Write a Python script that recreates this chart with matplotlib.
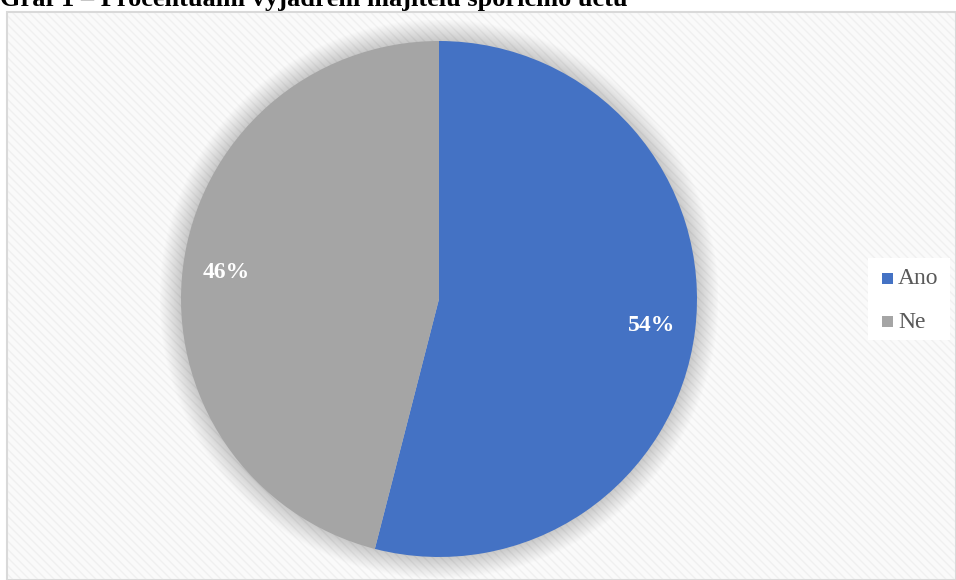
import matplotlib.pyplot as plt
from matplotlib.patches import Rectangle, Circle

# data
labels = ["Ano", "Ne"]
values = [54, 46]
colors = ["#4472C4", "#A5A5A5"]
title = "Graf 1 – Procentuální vyjádření majitelů spořicího účtu"

plt.rcParams['font.family'] = ['Liberation Serif', 'DejaVu Serif']

W, H = 956, 580
fig = plt.figure(figsize=(W / 100, H / 100), dpi=100)
fig.patch.set_facecolor("white")

# background frame in pixel coords
bg = fig.add_axes([0, 0, 1, 1])
bg.set_xlim(0, W)
bg.set_ylim(H, 0)
bg.axis("off")
bg.add_patch(Rectangle((7, 12), W - 7, H - 12, facecolor="#fafafa",
                       edgecolor="#d9d9d9", linewidth=1.5))
bg.add_patch(Rectangle((8, 13), W - 9, H - 14, facecolor="none",
                       edgecolor="#f0f0f0", hatch="\\\\\\\\", linewidth=0))
bg.text(0, 6, title, fontsize=19, fontweight="bold", ha="left",
        va="baseline", color="black")

# pie placement
cx, cy, r = 439, 299, 258
pad = 1.08
ax = fig.add_axes([(cx - r * pad) / W, (H - cy - r * pad) / H,
                   2 * r * pad / W, 2 * r * pad / H])
ax.set_facecolor("none")

# soft shadow
for k in range(24, 0, -1):
    ax.add_patch(Circle((0, 0), 1 + k * 0.0035, facecolor="#000000",
                        alpha=0.008, linewidth=0, zorder=0))

wedges, texts, autotexts = ax.pie(values, colors=colors, startangle=90,
                                  counterclock=False, autopct="%d%%",
                                  pctdistance=0.83, radius=1,
                                  wedgeprops=dict(linewidth=0))
for t in autotexts:
    t.set_color("white")
    t.set_fontsize(17)
    t.set_fontweight("bold")
ax.set_xlim(-pad, pad)
ax.set_ylim(-pad, pad)
ax.set_aspect("equal")

# legend
bg.add_patch(Rectangle((868, 258), 82, 82, facecolor="white",
                       edgecolor="none"))
for i, lab in enumerate(labels):
    y = 278 + i * 43
    bg.add_patch(Rectangle((882, y - 5), 11, 11, facecolor=colors[i],
                           edgecolor="none"))
    bg.text(898, y + 1, lab, fontsize=17, color="#595959", va="center",
            ha="left")

fig.savefig("out.png", dpi=100)
